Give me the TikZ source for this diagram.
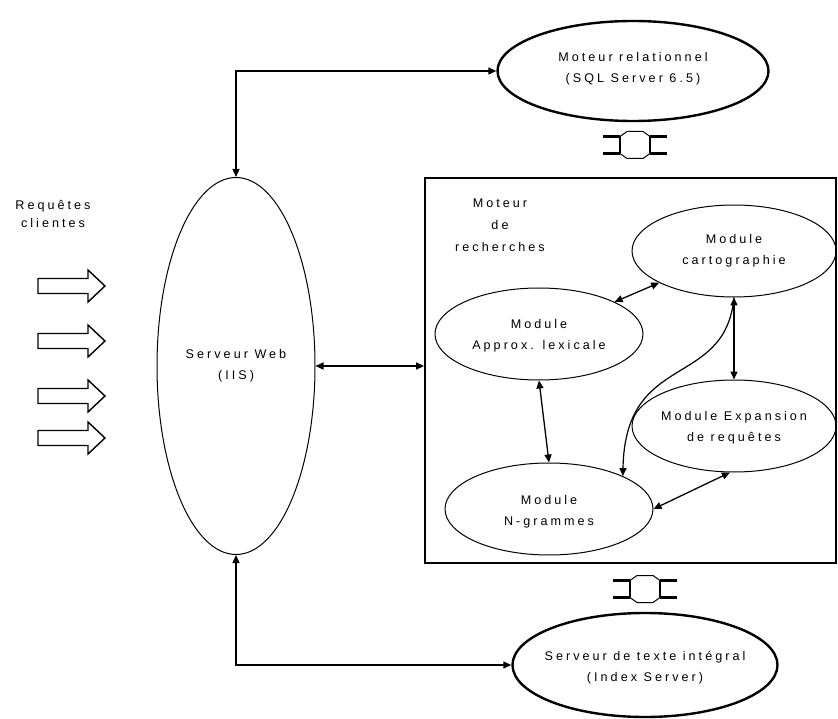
\documentclass[tikz,border=0pt]{standalone}
\usepackage{fontspec}
\newfontfamily\diagfont[LetterSpace=24]{Liberation Sans}
\usetikzlibrary{shapes.geometric,arrows.meta}
\tikzset{
  lbl/.style={font=\diagfont\fontsize{12.6}{21}\selectfont, align=center, inner sep=0pt},
  thinell/.style={ellipse, draw, line width=1pt, inner sep=0pt},
  thickell/.style={ellipse, draw, line width=2.4pt, inner sep=0pt},
  biarr/.style={line width=1.3pt, {Triangle[length=8pt,width=7pt]}-{Triangle[length=8pt,width=7pt]}},
  onearr/.style={line width=1.2pt, -{Triangle[length=8pt,width=7pt]}},
  blockarr/.style={draw, line width=1.4pt, line join=miter},
  engbox/.style={rectangle, draw, line width=1.8pt, inner sep=0pt},
  coupler/.pic={
    \draw[line width=2.2pt] (-32,-8.5) -- (-15,-8.5) (-32,8.5) -- (-15,8.5)
                            (15,-8.5) -- (32,-8.5) (15,8.5) -- (32,8.5);
    \draw[line width=1.2pt] (-15,-8.5) -- (-15,8.5) (15,-8.5) -- (15,8.5);
    \draw[line width=1pt] (-15,-8.5) -- (-8,-13.5) -- (8,-13.5) -- (15,-8.5)
                          (-15,8.5) -- (-8,13.5) -- (8,13.5) -- (15,8.5);
  }
}
\begin{document}
\begin{tikzpicture}[x=1pt,y=-1pt]
\useasboundingbox (0,0) rectangle (838,719);

% main ellipses
\node[thinell, minimum width=158pt, minimum height=377pt] (web) at (236,366) {};
\node[lbl] (webT) at (web.center) {Serveur Web\\(IIS)};

\node[thickell, minimum width=271pt, minimum height=100pt] (sql) at (633,71) {};
\node[lbl] (sqlT) at (633,69) {Moteur relationnel\\(SQL Server 6.5)};

\node[thickell, minimum width=265pt, minimum height=104pt] (idx) at (645,665) {};
\node[lbl] (idxT) at (645,668) {Serveur de texte intégral\\(Index Server)};

% search engine box
\node[engbox, minimum width=411pt, minimum height=385pt] (box) at (630.5,370.5) {};
\node[lbl, font=\diagfont\fontsize{12.6}{22}\selectfont] (boxT) at (500,225) {Moteur\\de\\recherches};

% modules
\node[thinell, minimum width=204pt, minimum height=92pt] (carto) at (734,251) {};
\node[lbl] (cartoT) at (carto.center) {Module\\cartographie};
\node[thinell, minimum width=208pt, minimum height=92pt] (approx) at (539,334) {};
\node[lbl] (approxT) at (539,336) {Module\\Approx. lexicale};
\node[thinell, minimum width=204pt, minimum height=92pt] (expan) at (734,426) {};
\node[lbl] (expanT) at (734,428) {Module Expansion\\de requêtes};
\node[thinell, minimum width=208pt, minimum height=92pt] (ngram) at (549,509) {};
\node[lbl] (ngramT) at (549,512) {Module\\N-grammes};

% client requests
\node[lbl, font=\diagfont\fontsize{12.6}{18}\selectfont] (req) at (53,214) {Requêtes\\clientes};
\foreach \yy in {286,341,396,438}{
  \draw[blockarr] (38,\yy-7.5) -- (88,\yy-7.5) -- (88,\yy-16) -- (105,\yy)
     -- (88,\yy+16) -- (88,\yy+7.5) -- (38,\yy+7.5) -- cycle;
}

% couplers
\pic at (635,145) {coupler};
\pic at (645,589) {coupler};

% connectors
\draw[biarr] (web.north) |- (sql.west);
\draw[biarr] (web.south) |- (idx.west);
\draw[biarr] (web.east) -- (web.east -| box.west);
\draw[biarr] (approx.23) -- (carto.203);
\draw[biarr] (carto.south) -- (expan.north);
\draw[biarr] (approx.south) -- (ngram.north);
\draw[biarr] (expan.265) -- (ngram.east);
\draw[onearr] (carto.south) .. controls (725,390) and (625,350) .. (ngram.24);
\end{tikzpicture}
\end{document}
